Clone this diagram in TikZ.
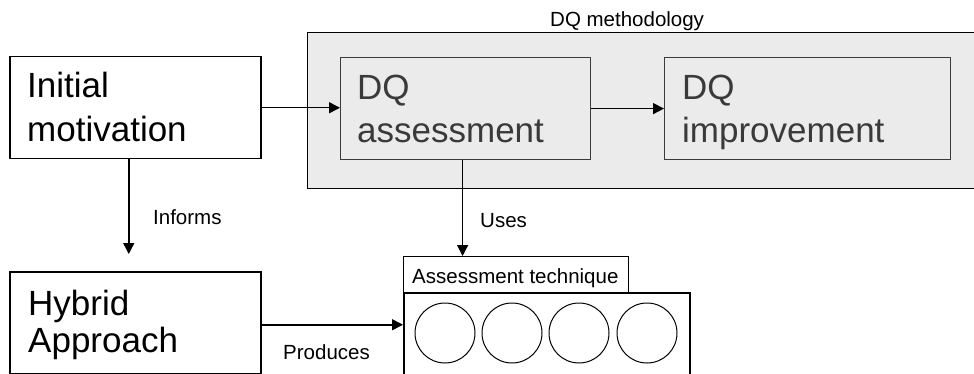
\documentclass[tikz,border=0pt]{standalone}
\usepackage{fontspec}
\setmainfont{Liberation Sans}
\usetikzlibrary{arrows.meta}
\definecolor{panel}{HTML}{EBEBEB}
\definecolor{inkgray}{HTML}{3A3A3A}
\tikzset{
  box/.style={draw=black, line width=1.5pt, fill=white, rectangle, inner sep=0pt, anchor=north west},
  methbox/.style={box, fill=panel},
  dqbox/.style={box, draw=inkgray, line width=1.2pt, fill=panel},
  bigtext/.style={font=\fontsize{35}{42}\selectfont, inner sep=0pt, anchor=base west},
  dqtext/.style={bigtext, text=inkgray},
  smalltext/.style={font=\fontsize{20.5}{24}\selectfont, inner sep=0pt, anchor=base west},
  arr/.style={line width=1.5pt, -{Triangle[length=11pt,width=11pt]}},
  slot/.style={draw=black, line width=1pt, circle, minimum size=60pt, inner sep=0pt}
}
\begin{document}
\begin{tikzpicture}[x=1pt,y=-1pt]
\useasboundingbox (0,0) rectangle (974,374);
\clip (0,0) rectangle (974,374);

% DQ methodology panel with its two steps
\node[methbox, minimum width=690pt, minimum height=156pt] (meth) at (306.5,32) {};
\node[smalltext] (methT) at (550,27) {DQ methodology};
\node[dqbox, minimum width=250pt, minimum height=102pt] (assess) at (340,57) {};
\node[dqtext] (assessA) at (357,100) {DQ};
\node[dqtext] (assessB) at (357,143) {assessment};
\node[dqbox, minimum width=286pt, minimum height=102pt] (improve) at (664,57) {};
\node[dqtext] (improveA) at (682,100) {DQ};
\node[dqtext] (improveB) at (682,143) {improvement};

% left-hand boxes
\node[box, minimum width=251pt, minimum height=102pt] (init) at (9,56) {};
\node[bigtext] (initA) at (27,98) {Initial};
\node[bigtext] (initB) at (27,142) {motivation};
\node[box, minimum width=251pt, minimum height=102pt] (hyb) at (9,271) {};
\node[bigtext] (hybA) at (28,315) {Hybrid};
\node[bigtext] (hybB) at (28,352) {Approach};

% assessment technique container
\node[box, minimum width=286pt, minimum height=100pt] (tech) at (403,292) {};
\node[box, line width=1.2pt, minimum width=225pt, minimum height=36pt] (tab) at (403,256) {};
\node[smalltext] (tabT) at (412,283) {Assessment technique};
\node[slot] (c1) at (445,333) {};
\node[slot] (c2) at (512,333) {};
\node[slot] (c3) at (579,333) {};
\node[slot] (c4) at (647,333) {};

% connectors
\draw[arr] (init.east) -- (init.east -| assess.west);
\draw[arr] (assess.east) -- (improve.west);
\draw[arr] ([xshift=-3pt]assess.south) -- ([xshift=-3pt]assess.south |- tab.north);
\node[smalltext] (usesT) at (480,227) {Uses};
\draw[arr] ([xshift=-6.5pt]init.south) -- ([xshift=-6.5pt,yshift=17pt]hyb.north);
\node[smalltext] (informsT) at (153,224) {Informs};
\draw[arr] ([yshift=-2pt]hyb.east) -- ([yshift=-2pt]hyb.east -| tech.west);
\node[smalltext] (producesT) at (283,359) {Produces};
\end{tikzpicture}
\end{document}
